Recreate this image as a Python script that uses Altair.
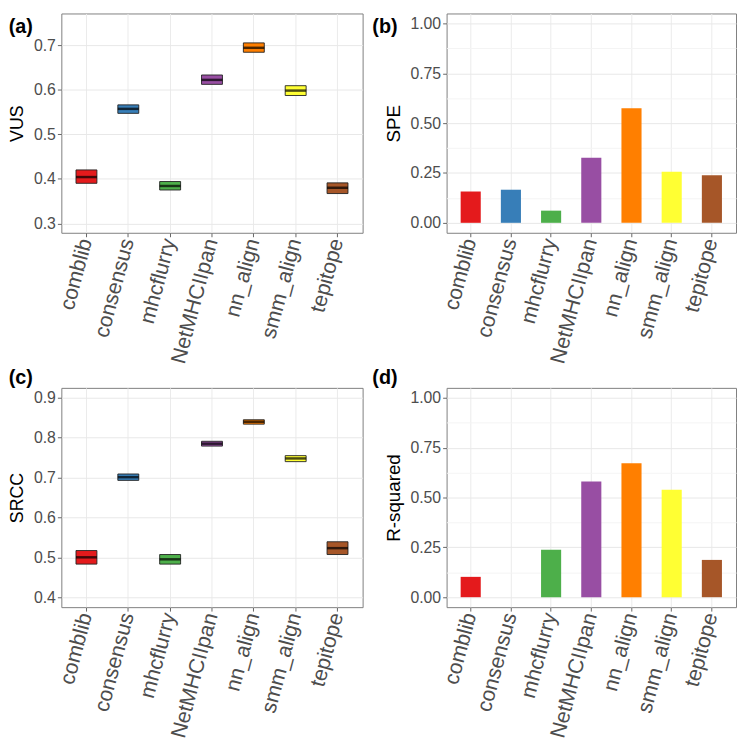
import altair as alt
import pandas as pd

methods = ["comblib", "consensus", "mhcflurry", "NetMHCIIpan", "nn_align", "smm_align", "tepitope"]
colors = ["#E41A1C", "#377EB8", "#4DAF4A", "#984EA3", "#FF7F00", "#FFFF33", "#A65628"]

# (a) VUS crossbars
vus_lo = [0.390, 0.547, 0.375, 0.612, 0.684, 0.587, 0.367]
vus_mid = [0.404, 0.557, 0.384, 0.622, 0.694, 0.598, 0.380]
vus_hi = [0.420, 0.566, 0.394, 0.633, 0.705, 0.609, 0.391]

# (b) SPE bars
spe = [0.157, 0.166, 0.061, 0.326, 0.575, 0.256, 0.238]

# (c) SRCC crossbars
srcc_lo = [0.483, 0.693, 0.483, 0.779, 0.834, 0.740, 0.507]
srcc_mid = [0.500, 0.701, 0.495, 0.785, 0.840, 0.748, 0.523]
srcc_hi = [0.517, 0.709, 0.507, 0.791, 0.845, 0.755, 0.539]

# (d) R-squared bars
rsq = [0.102, 0.0, 0.238, 0.580, 0.672, 0.539, 0.187]

FONT = "Liberation Sans"
W_L, W_R, H = 305, 293, 222

color = alt.Color("method:N", sort=methods,
                  scale=alt.Scale(domain=methods, range=colors), legend=None)


def xenc():
    return alt.X("method:N", sort=methods, title=None,
                 scale=alt.Scale(paddingInner=0, paddingOuter=0.1),
                 axis=alt.Axis(labelAngle=-75, labelAlign="right", labelBaseline="middle",
                               labelFontSize=21.5, labelColor="#4d4d4d", labelFont=FONT,
                               labelPadding=2, tickSize=4, tickColor="#666",
                               domain=False, grid=True, gridColor="#ebebeb"))


def yaxis(title, values, fmt, mult, tsize):
    minor_test = f"abs(datum.value*{mult} - round(datum.value*{mult})) > 0.01"
    return alt.Axis(values=values, format=fmt, title=title,
                    labelExpr=f"{minor_test} ? '' : datum.label",
                    labelFontSize=16, labelColor="#4d4d4d", labelFont=FONT,
                    labelOverlap=False, labelPadding=2,
                    titleFont=FONT, titleFontSize=tsize, titleFontWeight="normal",
                    titleColor="black", titlePadding=7,
                    tickSize=4,
                    tickColor=alt.condition(minor_test, alt.value("transparent"), alt.value("#666")),
                    gridColor=alt.condition(minor_test, alt.value("#f4f4f4"), alt.value("#e8e8e8")),
                    domain=False, grid=True)


def tag_title(text, offset, dx):
    return alt.TitleParams(text, anchor="start", fontSize=20, fontWeight="bold",
                           font=FONT, color="black", offset=offset, dx=dx)


def crossbar_panel(lo, mid, hi, title, tag, domain, values, width, offset, dx):
    df = pd.DataFrame({"method": methods, "lo": lo, "mid": mid, "hi": hi})
    base = alt.Chart(df)
    box = base.mark_bar(stroke="#222222", strokeWidth=0.9,
                        width=alt.RelativeBandSize(0.5)).encode(
        x=xenc(),
        y=alt.Y("lo:Q", scale=alt.Scale(domain=domain, nice=False, zero=False),
                axis=yaxis(title, values, ".1f", 10, 18)),
        y2="hi:Q",
        color=color,
    )
    med = base.mark_tick(color="black", thickness=2.5, size=width / 7.2 * 0.5).encode(
        x=xenc(), y="mid:Q")
    return alt.layer(box, med).properties(width=width, height=H,
                                          title=tag_title(tag, offset, dx))


def bar_panel(vals, title, tag, width, offset, dx):
    df = pd.DataFrame({"method": methods, "v": vals})
    values = [0, 0.125, 0.25, 0.375, 0.5, 0.625, 0.75, 0.875, 1.0]
    return alt.Chart(df).mark_bar(width=alt.RelativeBandSize(0.5)).encode(
        x=xenc(),
        y=alt.Y("v:Q", scale=alt.Scale(domain=[-0.05, 1.05], nice=False, zero=False),
                axis=yaxis(title, values, ".2f", 4, 19)),
        color=color,
    ).properties(width=width, height=H, title=tag_title(tag, offset, dx))


a = crossbar_panel(vus_lo, vus_mid, vus_hi, "VUS", "(a)", [0.279, 0.771],
                   [0.3, 0.35, 0.4, 0.45, 0.5, 0.55, 0.6, 0.65, 0.7, 0.75], W_L, -24, 0)
b = bar_panel(spe, "SPE", "(b)", W_R, -24, -12)
c = crossbar_panel(srcc_lo, srcc_mid, srcc_hi, "SRCC", "(c)", [0.375, 0.925],
                   [0.4, 0.45, 0.5, 0.55, 0.6, 0.65, 0.7, 0.75, 0.8, 0.85, 0.9], W_L, 0, 0)
d = bar_panel(rsq, "R-squared", "(d)", W_R, 0, -12)

chart = alt.vconcat(
    alt.hconcat(a, b, spacing=8),
    alt.hconcat(c, d, spacing=8),
    spacing=0,
).configure_view(stroke="#7f7f7f", strokeWidth=1).properties(
    background="white", padding=0)

chart.save("out.html", embed_options={"renderer": "svg", "actions": False})
